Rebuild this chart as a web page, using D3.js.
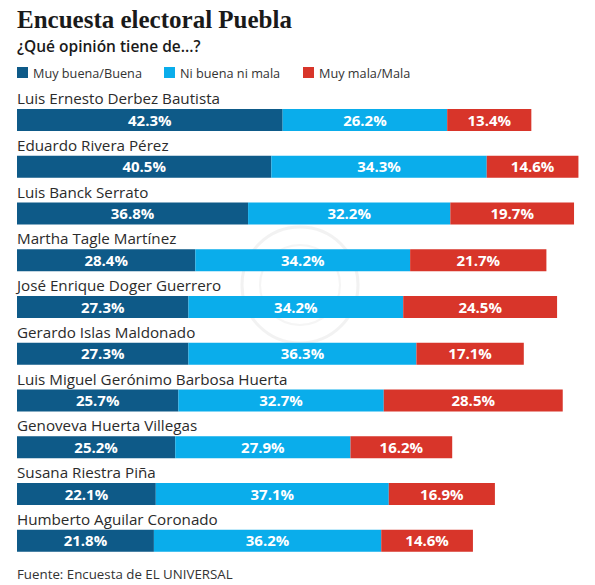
<!doctype html>
<html>
<head>
<meta charset="utf-8">
<script src="https://cdn.jsdelivr.net/npm/d3@7"></script>
<style>
  body { margin: 0; background: #fff; }
  svg { display: block; }
</style>
</head>
<body>
<script>
const names = [
  "Luis Ernesto Derbez Bautista",
  "Eduardo Rivera Pérez",
  "Luis Banck Serrato",
  "Martha Tagle Martínez",
  "José Enrique Doger Guerrero",
  "Gerardo Islas Maldonado",
  "Luis Miguel Gerónimo Barbosa Huerta",
  "Genoveva Huerta Villegas",
  "Susana Riestra Piña",
  "Humberto Aguilar Coronado"
];
const buena = [42.3, 40.5, 36.8, 28.4, 27.3, 27.3, 25.7, 25.2, 22.1, 21.8];
const neutral = [26.2, 34.3, 32.2, 34.2, 34.2, 36.3, 32.7, 27.9, 37.1, 36.2];
const mala = [13.4, 14.6, 19.7, 21.7, 24.5, 17.1, 28.5, 16.2, 16.9, 14.6];
const seriesNames = ["Muy buena/Buena", "Ni buena ni mala", "Muy mala/Mala"];
const colors = ["#0e5a88", "#0aadeb", "#d8352a"];

const W = 595, H = 585;
const sans = "'Open Sans', 'Noto Sans', sans-serif";
const svg = d3.select("body").append("svg").attr("width", W).attr("height", H);

// faint watermark behind the bars
const wm = svg.append("g").attr("opacity", 0.5);
wm.append("circle").attr("cx", 300).attr("cy", 285).attr("r", 58)
  .attr("fill", "none").attr("stroke", "#e6e6e6").attr("stroke-width", 3);
wm.append("circle").attr("cx", 300).attr("cy", 285).attr("r", 40)
  .attr("fill", "none").attr("stroke", "#ececec").attr("stroke-width", 2);

// title block
svg.append("text").attr("x", 17).attr("y", 28)
  .attr("font-family", "'Liberation Serif', serif").attr("font-weight", "bold")
  .attr("font-size", 25).attr("fill", "#1a1a1a")
  .text("Encuesta electoral Puebla");
svg.append("text").attr("x", 17).attr("y", 52)
  .attr("font-family", sans).attr("font-weight", 600)
  .attr("font-size", 15.5).attr("fill", "#1a1a1a")
  .text("¿Qué opinión tiene de...?");

// legend
const legendX = [17, 164, 303];
const lg = svg.selectAll("g.legend").data(seriesNames).join("g")
  .attr("transform", (d, i) => `translate(${legendX[i]},67)`);
lg.append("rect").attr("width", 11).attr("height", 11).attr("fill", (d, i) => colors[i]);
lg.append("text").attr("x", 16).attr("y", 10.5)
  .attr("font-family", sans).attr("font-size", 12.7).attr("fill", "#333")
  .text(d => d);

// rows
const rows = names.map((n, i) => ({name: n, values: [buena[i], neutral[i], mala[i]]}));
const x = d3.scaleLinear().domain([0, 100]).range([17, 17 + 628]);
const y = d3.scaleBand().domain(names).range([109, 109 + 46.75 * 10]).paddingInner(0);
const barH = 22;

const row = svg.selectAll("g.row").data(rows).join("g")
  .attr("transform", d => `translate(0,${y(d.name)})`);

row.append("text").attr("x", 17).attr("y", -5)
  .attr("font-family", sans).attr("font-size", 15.2).attr("fill", "#2b2b2b")
  .text(d => d.name);

const segs = row.selectAll("g.seg").data(d => {
  let acc = 0;
  return d.values.map((v, k) => { const s = {k, v, x0: acc, x1: acc + v}; acc += v; return s; });
}).join("g");

segs.append("rect")
  .attr("x", s => x(s.x0)).attr("width", s => x(s.x1) - x(s.x0))
  .attr("y", 0).attr("height", barH)
  .attr("fill", s => colors[s.k]);

segs.append("text")
  .attr("x", s => (x(s.x0) + x(s.x1)) / 2).attr("y", barH / 2 + 5.5)
  .attr("text-anchor", "middle")
  .attr("font-family", sans).attr("font-weight", "bold").attr("font-size", 15)
  .attr("fill", "#fff")
  .text(s => s.v.toFixed(1) + "%");

// footer
svg.append("text").attr("x", 17).attr("y", 579)
  .attr("font-family", sans).attr("font-size", 13.3).attr("fill", "#333")
  .text("Fuente: Encuesta de EL UNIVERSAL");
</script>
</body>
</html>
